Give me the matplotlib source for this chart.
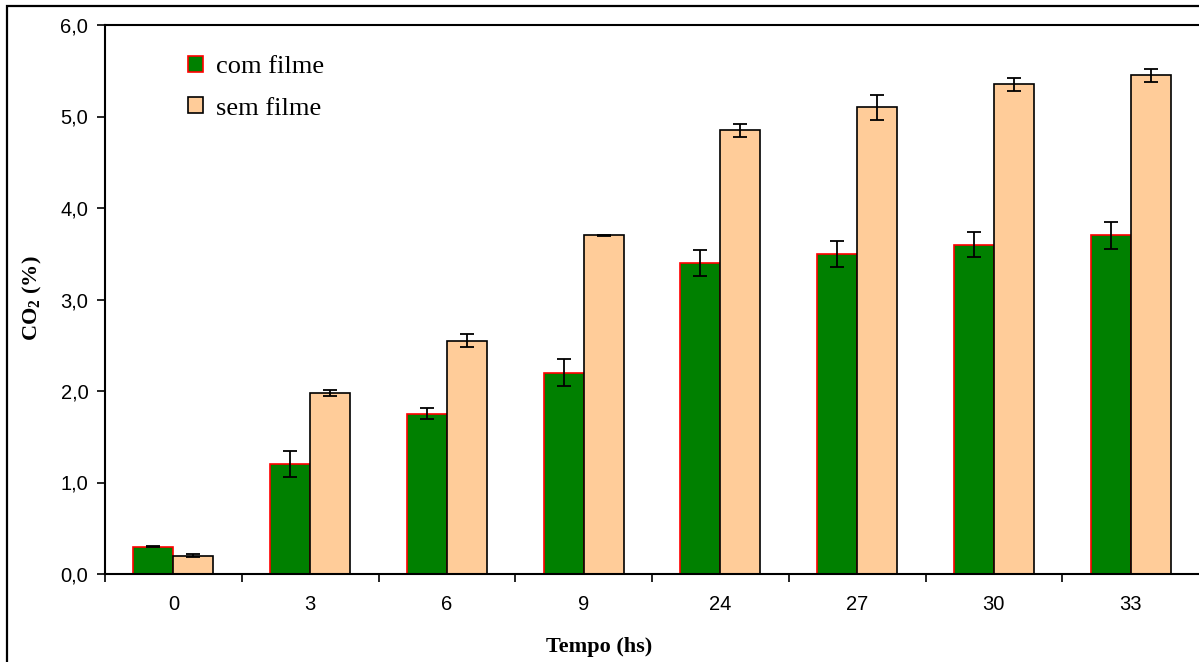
import numpy as np
import matplotlib
matplotlib.use('Agg')
import matplotlib.pyplot as plt
from matplotlib.patches import Rectangle
from matplotlib.ticker import FuncFormatter

# CO2 medido ao longo do tempo, com e sem filme
tempo = ['0', '3', '6', '9', '24', '27', '30', '33']
com_filme = [0.30, 1.20, 1.75, 2.20, 3.40, 3.50, 3.60, 3.70]
sem_filme = [0.20, 1.98, 2.55, 3.70, 4.85, 5.10, 5.35, 5.45]
erro_com = [0.005, 0.14, 0.06, 0.15, 0.14, 0.14, 0.14, 0.15]
erro_sem = [0.015, 0.03, 0.07, 0.005, 0.07, 0.14, 0.07, 0.07]

plt.rcParams['mathtext.fontset'] = 'custom'
plt.rcParams['mathtext.rm'] = 'Liberation Serif:bold'

W, H = 1199, 662
fig = plt.figure(figsize=(W / 100, H / 100), dpi=100)
ax = fig.add_axes([105 / W, 1 - 574 / H, 1 - 105 / W, (574 - 25) / H])

x = np.arange(len(tempo))
w = 0.2925
err_kw = dict(ecolor='black', elinewidth=1.3, capsize=5, capthick=1.3)
ax.bar(x - w / 2, com_filme, w, color='#008000', edgecolor='#ff0000', linewidth=1.2,
       yerr=erro_com, error_kw=err_kw, label='com filme', zorder=2)
ax.bar(x + w / 2, sem_filme, w, color='#ffcc99', edgecolor='black', linewidth=1.2,
       yerr=erro_sem, error_kw=err_kw, label='sem filme', zorder=2)

ax.set_xlim(-0.5, 7.5)
ax.set_ylim(0, 6)
ax.set_yticks(np.arange(0, 6.01, 1.0))
ax.yaxis.set_major_formatter(FuncFormatter(lambda v, p: f'{v:.1f}'.replace('.', ',')))

# ticks nas divisas entre grupos, rotulos no centro
ax.set_xticks(x - 0.5)
ax.set_xticklabels([])
ax.set_xticks(x, minor=True)
ax.set_xticklabels(tempo, minor=True, fontsize=14.5, family='Liberation Sans')
ax.tick_params(axis='x', which='major', length=6, width=1.2, direction='out')
ax.tick_params(axis='x', which='minor', length=0, pad=15)
ax.tick_params(axis='y', length=6, width=1.2, direction='out', pad=6,
               labelsize=14.5)
for lab in ax.get_yticklabels():
    lab.set_family('Liberation Sans')

ax.spines['right'].set_visible(False)
for s in ['left', 'top', 'bottom']:
    ax.spines[s].set_linewidth(1.5)

fig.text(599 / W, 1 - 647 / H, 'Tempo (hs)', ha='center', va='center',
         fontsize=16, fontweight='bold', family='Liberation Serif')
fig.text(32 / W, 1 - 298 / H, 'CO$_2$ (%)', ha='center', va='center', rotation=90,
         fontsize=16, fontweight='bold', family='Liberation Serif')

ax.legend(loc='upper left', bbox_to_anchor=(188 / W, 1 - 56 / H),
          bbox_transform=fig.transFigure, frameon=False, borderpad=0,
          borderaxespad=0, handlelength=0.55, handleheight=0.55,
          handletextpad=0.5, labelspacing=0.72,
          prop={'family': 'Liberation Serif', 'size': 19})

# moldura externa do grafico
fig.patches.append(Rectangle((7 / W, -0.1), 1.2, 1.1 - 6 / H, transform=fig.transFigure,
                             fill=False, edgecolor='black', linewidth=1.6))

fig.savefig('out.png', dpi=100)
